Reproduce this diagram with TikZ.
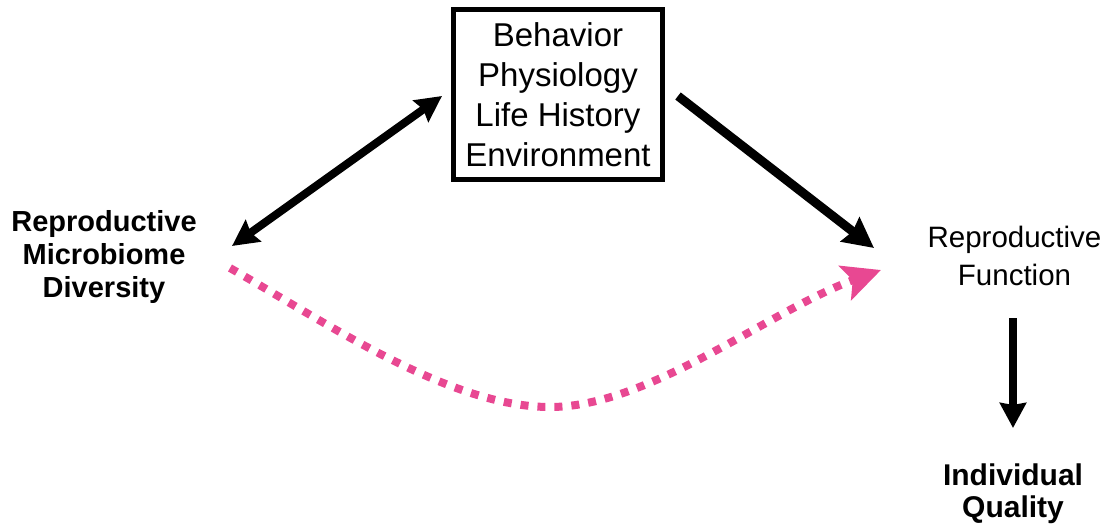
\documentclass[tikz,border=0pt]{standalone}
\usepackage{fontspec}
\setmainfont{Liberation Sans}
\usetikzlibrary{arrows.meta}
\definecolor{pinkarrow}{RGB}{232,72,146}
\tikzset{
  lbl/.style={inner sep=0pt, align=center, anchor=base, font=\fontsize{29.5}{34}\selectfont},
  boxnode/.style={draw=black, line width=5pt, minimum width=209pt, minimum height=170pt, inner sep=0pt, align=center, font=\fontsize{33}{40}\selectfont},
  blackarrow/.style={draw=black, line width=8pt},
  pinkdots/.style={draw=pinkarrow, line width=8pt, dash pattern=on 8pt off 9pt}
}
\begin{document}
\begin{tikzpicture}[x=1pt,y=-1pt]
\useasboundingbox (0,0) rectangle (1107,527);
\node[boxnode] (box) at (558,94.5) {Behavior\\Physiology\\Life History\\Environment};
\node[lbl, font=\bfseries\fontsize{29}{33}\selectfont] (micro) at (104,297) {Reproductive\\Microbiome\\Diversity};
\node[lbl, font=\fontsize{29.5}{38}\selectfont] (func) at (1014.5,285) {Reproductive\\Function};
\node[lbl, font=\bfseries\fontsize{30}{32}\selectfont] (qual) at (1013,517) {Individual\\Quality};
\coordinate (a1) at (232,246);
\coordinate (a2) at (442,96);
\coordinate (b1) at (678,96);
\coordinate (b2) at (874,248);
\coordinate (c1) at (1013,318);
\coordinate (c2) at (1013,428);
\coordinate (p1) at (230,268);
\coordinate (pm) at (550,407);
\coordinate (p2) at (881,270);
\draw[blackarrow, {Stealth[length=26pt,width=26pt,inset=3pt]}-{Stealth[length=26pt,width=26pt,inset=3pt]}] (a1) -- (a2);
\draw[blackarrow, line width=9pt, -{Stealth[length=30pt,width=30pt,inset=3pt]}] (b1) -- (b2);
\draw[blackarrow, -{Stealth[length=25pt,width=26pt,inset=2pt]}] (c1) -- (c2);
\draw[pinkdots, -{Stealth[length=38pt,width=36pt,inset=8pt,fill=pinkarrow]}] (p1) .. controls (330,325) and (450,407) .. (pm) .. controls (650,407) and (770,310) .. (p2);
\end{tikzpicture}
\end{document}
